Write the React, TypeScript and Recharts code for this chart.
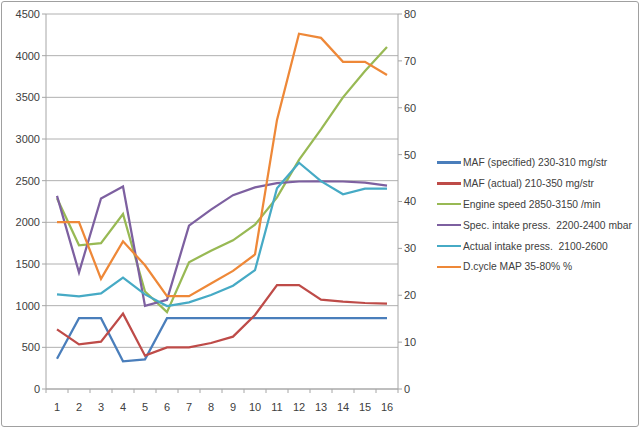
import React from 'react';
import {
  LineChart, Line, XAxis, YAxis, CartesianGrid, Legend,
} from 'recharts';

const cycles = [1, 2, 3, 4, 5, 6, 7, 8, 9, 10, 11, 12, 13, 14, 15, 16];

const mafSpecified = [362, 850, 850, 332, 356, 850, 850, 850, 850, 850, 850, 850, 850, 850, 850, 850];
const mafActual = [716, 536, 568, 904, 400, 500, 500, 552, 628, 888, 1248, 1248, 1072, 1048, 1032, 1024];
const engineSpeed = [2290, 1724, 1750, 2100, 1170, 922, 1520, 1660, 1784, 1973, 2300, 2750, 3116, 3500, 3815, 4105];
const specIntake = [2318, 1399, 2286, 2430, 998, 1071, 1961, 2153, 2326, 2420, 2470, 2490, 2492, 2490, 2476, 2440];
const actualIntake = [1136, 1112, 1148, 1336, 1135, 995, 1040, 1128, 1240, 1426, 2410, 2715, 2494, 2337, 2404, 2404];
const dutyCycle = [35.6, 35.6, 23.5, 31.5, 26.4, 19.8, 19.8, 22.5, 25.2, 28.7, 57.4, 75.8, 74.9, 69.8, 69.8, 67.0];

const leftTicks = [0, 500, 1000, 1500, 2000, 2500, 3000, 3500, 4000, 4500];
const rightTicks = [0, 10, 20, 30, 40, 50, 60, 70, 80];

const SERIES = [
  { key: 'mafSpec', name: 'MAF (specified) 230-310 mg/str', color: '#4a7ebb', axis: 'left', values: mafSpecified },
  { key: 'mafAct', name: 'MAF (actual) 210-350 mg/str', color: '#be4b48', axis: 'left', values: mafActual },
  { key: 'rpm', name: 'Engine speed 2850-3150 /min', color: '#98b954', axis: 'left', values: engineSpeed },
  { key: 'specP', name: 'Spec. intake press.  2200-2400 mbar', color: '#7d60a0', axis: 'left', values: specIntake },
  { key: 'actP', name: 'Actual intake press.  2100-2600', color: '#46aac5', axis: 'left', values: actualIntake },
  { key: 'duty', name: 'D.cycle MAP 35-80% %', color: '#ee8838', axis: 'right', values: dutyCycle },
];

const data = cycles.map((c, i) => {
  const row: Record<string, number> = { cycle: c };
  SERIES.forEach((s) => { row[s.key] = s.values[i]; });
  return row;
});

// labels on whole cycles, tick marks on the band edges between them
const xTicks: number[] = [0.5];
cycles.forEach((c) => { xTicks.push(c, c + 0.5); });

const FONT = '"Liberation Sans", Arial, sans-serif';
const AXIS = '#a6a6a6';
const TEXT = '#404040';

function CycleTick(props: any) {
  const { x, y, payload } = props;
  if (Number.isInteger(payload.value)) {
    return (
      <text x={x} y={y + 14} textAnchor="middle" fontSize={11} fill={TEXT} fontFamily={FONT}>
        {payload.value}
      </text>
    );
  }
  return <line x1={x} x2={x} y1={y - 8} y2={y - 4} stroke={AXIS} />;
}

function LegendBox() {
  return (
    <div style={{ fontFamily: FONT, fontSize: 10.3, color: TEXT }}>
      {SERIES.map((s) => (
        <div key={s.key} style={{ display: 'flex', alignItems: 'center', height: 20.9 }}>
          <div style={{ width: 24, height: 2.5, background: s.color, marginRight: 2 }} />
          <span style={{ whiteSpace: 'pre' }}>{s.name}</span>
        </div>
      ))}
    </div>
  );
}

export default function App() {
  return (
    <div style={{ position: 'absolute', left: 0, top: 0, width: 640, height: 428 }}>
      <div
        style={{
          position: 'absolute', left: 1, top: 1, width: 636, height: 424,
          border: '1.5px solid #a0a0a0', borderRadius: 3,
        }}
      />
      <LineChart
        width={640}
        height={428}
        data={data}
        margin={{ top: 14, right: 202, bottom: 9, left: 6 }}
      >
        <CartesianGrid yAxisId="left" vertical={false} stroke="#b0b0b0" />
        <XAxis
          dataKey="cycle"
          type="number"
          domain={[0.5, 16.5]}
          ticks={xTicks}
          interval={0}
          tick={<CycleTick />}
          tickLine={false}
          axisLine={{ stroke: AXIS }}
          height={30}
        />
        <YAxis
          yAxisId="left"
          domain={[0, 4500]}
          ticks={leftTicks}
          interval={0}
          width={40}
          tick={{ fontSize: 11, fill: TEXT, fontFamily: FONT }}
          tickLine={{ stroke: AXIS }}
          tickSize={4}
          axisLine={{ stroke: AXIS }}
        />
        <YAxis
          yAxisId="right"
          orientation="right"
          domain={[0, 80]}
          ticks={rightTicks}
          interval={0}
          width={40}
          tick={{ fontSize: 11, fill: TEXT, fontFamily: FONT }}
          tickLine={{ stroke: AXIS }}
          tickSize={4}
          axisLine={{ stroke: AXIS }}
        />
        {SERIES.map((s) => (
          <Line
            key={s.key}
            yAxisId={s.axis}
            dataKey={s.key}
            name={s.name}
            type="linear"
            stroke={s.color}
            strokeWidth={2.25}
            dot={false}
            isAnimationActive={false}
          />
        ))}
        <Legend
          layout="vertical"
          align="center"
          verticalAlign="middle"
          content={<LegendBox />}
          wrapperStyle={{ left: 437, top: 152, width: 200 }}
        />
      </LineChart>
    </div>
  );
}
